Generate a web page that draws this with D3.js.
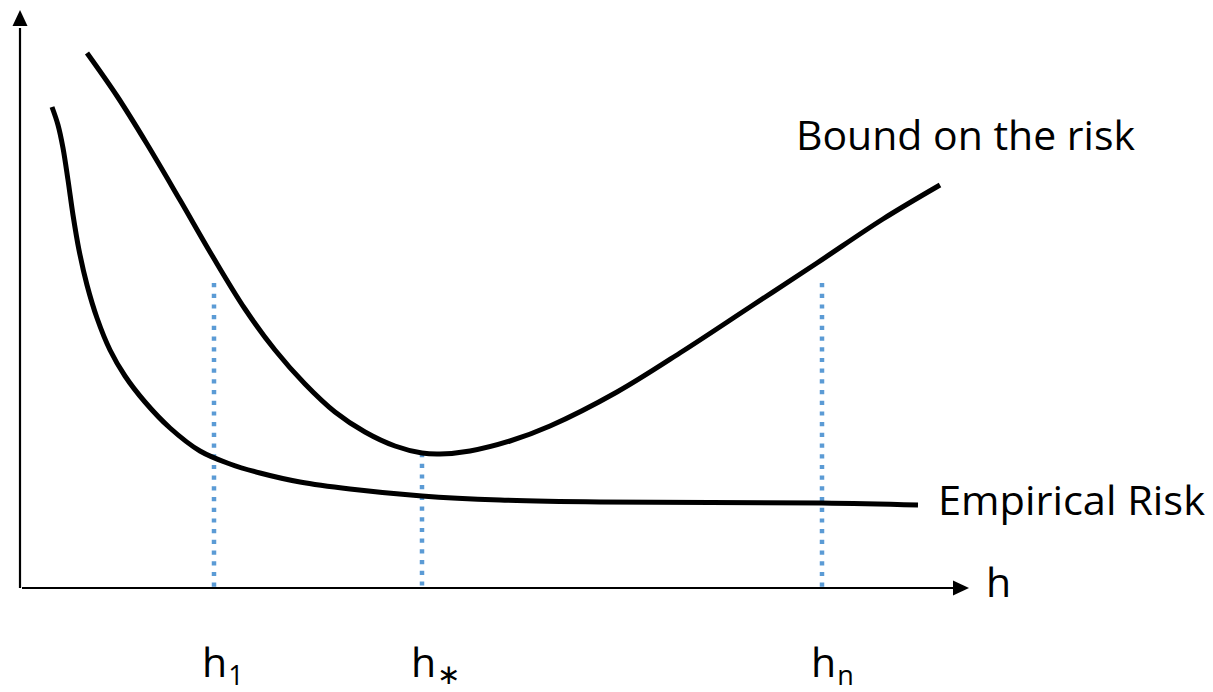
<!DOCTYPE html>
<html>
<head>
<meta charset="utf-8">
<script src="https://cdn.jsdelivr.net/npm/d3@7"></script>
<style>
  html, body { margin: 0; padding: 0; background: #ffffff; }
  svg { display: block; }
  text { font-family: "Open Sans", "Noto Sans", sans-serif; fill: #000; }
</style>
</head>
<body>
<svg id="chart" width="1213" height="692"></svg>
<script>
// ---- Data (h and risk in arbitrary units) ----
const boundH    = [67, 97, 127, 160, 193, 225, 255, 285, 315, 345, 375, 402, 420, 450, 490, 530, 597, 663, 730, 797, 863, 920];
const boundRisk = [535, 492, 444, 388, 331, 279, 238, 204, 176, 156, 142, 135, 134, 137, 147, 162, 196, 237, 281, 325, 369, 403];

const empH      = [32, 38, 43, 48, 53, 59, 67, 77, 90, 105, 125, 150, 180, 210, 240, 280, 330, 402, 480, 580, 802, 898];
const empRisk   = [481, 463, 440, 408, 373, 338, 303, 270, 238, 212, 186, 160, 137, 124, 115, 106, 99, 92, 88, 86, 85, 83];

const markerLabels = ["1", "*", "n"];
const markerH      = [194, 402, 802];
const markerTop    = [305, 135, 305];

const seriesNames = ["Bound on the risk", "Empirical Risk"];
const axisLabel = "h";

// ---- Scales ----
const svg = d3.select("#chart");
const x = d3.scaleLinear().domain([0, 948]).range([20, 968]);
const y = d3.scaleLinear().domain([0, 578]).range([588, 10]);

// ---- Dotted markers ----
svg.append("g").selectAll("line")
  .data(markerH)
  .join("line")
  .attr("x1", d => x(d)).attr("x2", d => x(d))
  .attr("y1", (d, i) => y(markerTop[i]))
  .attr("y2", y(0) - 1)
  .attr("stroke", "#5B9BD5")
  .attr("stroke-width", 4.5)
  .attr("stroke-dasharray", "4.2 6.5");

// ---- Axes ----
const axes = svg.append("g");
axes.append("line")
  .attr("x1", x(0)).attr("x2", x(0))
  .attr("y1", y(0)).attr("y2", y(560))
  .attr("stroke", "#000").attr("stroke-width", 2.2);
axes.append("path")
  .attr("d", `M${x(0)},${y(578)} L${x(0) - 7.5},${y(578) + 16} L${x(0) + 7.5},${y(578) + 16} Z`)
  .attr("fill", "#000");
axes.append("line")
  .attr("x1", x(0) + 2).attr("x2", x(935))
  .attr("y1", y(0)).attr("y2", y(0))
  .attr("stroke", "#000").attr("stroke-width", 2.2);
axes.append("path")
  .attr("d", `M${x(948) + 1},${y(0)} L${x(948) - 15},${y(0) - 7.5} L${x(948) - 15},${y(0) + 7.5} Z`)
  .attr("fill", "#000");

// ---- Curves ----
const line = d3.line()
  .x(d => x(d[0])).y(d => y(d[1]))
  .curve(d3.curveCatmullRom.alpha(0.5));

svg.append("path")
  .datum(boundH.map((h, i) => [h, boundRisk[i]]))
  .attr("d", line)
  .attr("fill", "none").attr("stroke", "#000").attr("stroke-width", 5);

svg.append("path")
  .datum(empH.map((h, i) => [h, empRisk[i]]))
  .attr("d", line)
  .attr("fill", "none").attr("stroke", "#000").attr("stroke-width", 5);

// ---- Text labels ----
const fs = 41;
svg.append("text")
  .attr("x", 796).attr("y", 150)
  .attr("font-size", fs)
  .attr("textLength", 339).attr("lengthAdjust", "spacingAndGlyphs")
  .text(seriesNames[0]);

svg.append("text")
  .attr("x", 938).attr("y", 515)
  .attr("font-size", fs)
  .attr("textLength", 267).attr("lengthAdjust", "spacingAndGlyphs")
  .text(seriesNames[1]);

svg.append("text")
  .attr("x", 986).attr("y", 597)
  .attr("font-size", fs)
  .text(axisLabel);

// marker labels with subscripts
const labelX = [202, 411, 811];
markerLabels.forEach((s, i) => {
  const t = svg.append("text")
    .attr("x", labelX[i]).attr("y", 677)
    .attr("font-size", fs);
  t.append("tspan").text("h");
  if (s === "*") {
    t.append("tspan")
      .attr("dx", 1).attr("dy", 7)
      .attr("font-size", 28)
      .text("\u2217");
  } else {
    t.append("tspan")
      .attr("dx", 1).attr("dy", 8)
      .attr("font-size", 27)
      .text(s);
  }
});
</script>
</body>
</html>
